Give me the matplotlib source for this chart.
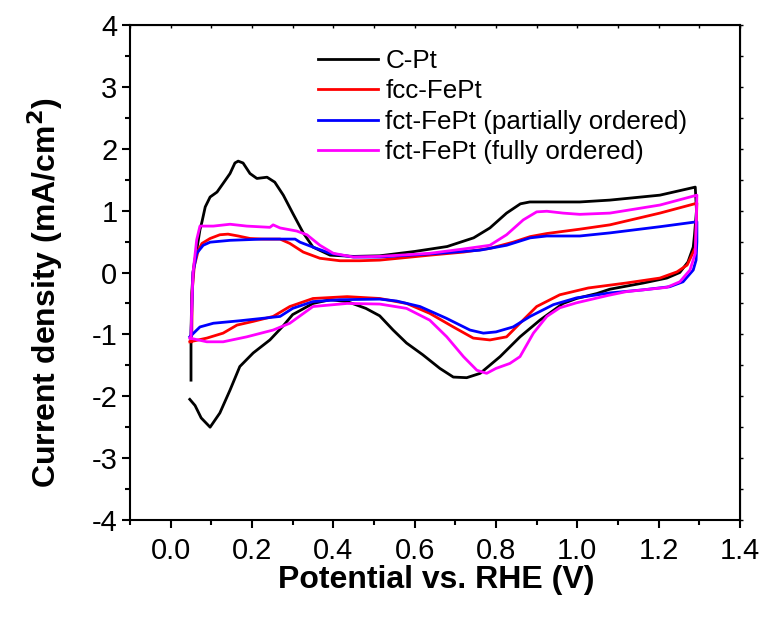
import numpy as np
import matplotlib
matplotlib.use('Agg')
import matplotlib.pyplot as plt
from matplotlib.ticker import MultipleLocator, FixedLocator

plt.rcParams['font.family'] = ['Liberation Sans', 'DejaVu Sans']
plt.rcParams['axes.unicode_minus'] = False

# Cyclic voltammograms, each read as one sweep: anodic up to 1.29 V, then cathodic back
cpt_x = [0.050, 0.050, 0.052, 0.055, 0.058, 0.064, 0.072, 0.077, 0.085, 0.097, 0.114, 0.129,
         0.146, 0.158, 0.166, 0.178, 0.195, 0.212, 0.237, 0.256, 0.277, 0.300, 0.326, 0.350,
         0.392, 0.450, 0.514, 0.600, 0.680, 0.745, 0.785, 0.826, 0.860, 0.883, 0.957, 1.006,
         1.080, 1.203, 1.290,
         1.293, 1.288, 1.285, 1.272, 1.252, 1.220, 1.162, 1.080, 1.048, 0.998, 0.965, 0.908,
         0.859, 0.810, 0.761, 0.728, 0.695, 0.662, 0.620, 0.580, 0.547, 0.514, 0.480, 0.434,
         0.392, 0.350, 0.300, 0.277, 0.244, 0.203, 0.170, 0.146, 0.121, 0.097, 0.075, 0.060,
         0.047]
cpt_y = [-1.74, -1.00, -0.33, 0.00, 0.15, 0.36, 0.69, 0.82, 1.06, 1.22, 1.30, 1.44,
         1.60, 1.77, 1.80, 1.77, 1.60, 1.52, 1.54, 1.46, 1.25, 0.96, 0.64, 0.41,
         0.28, 0.26, 0.27, 0.34, 0.42, 0.56, 0.72, 0.96, 1.11, 1.14, 1.14, 1.14,
         1.17, 1.25, 1.38,
         1.00, 0.60, 0.41, 0.17, 0.00, -0.09, -0.17, -0.27, -0.34, -0.42, -0.50, -0.77,
         -1.04, -1.36, -1.63, -1.70, -1.69, -1.55, -1.33, -1.14, -0.93, -0.70, -0.58, -0.47,
         -0.44, -0.50, -0.68, -0.86, -1.09, -1.30, -1.52, -1.90, -2.27, -2.50, -2.35, -2.15,
         -2.05]

fcc_x = [0.050, 0.052, 0.053, 0.058, 0.068, 0.077, 0.097, 0.121, 0.141, 0.166, 0.195, 0.227,
         0.269, 0.293, 0.326, 0.367, 0.416, 0.465, 0.514, 0.637, 0.720, 0.785, 0.842, 0.884,
         0.925, 1.006, 1.080, 1.203, 1.294,
         1.292, 1.290, 1.270, 1.245, 1.203, 1.120, 1.027, 0.957, 0.900, 0.859, 0.826, 0.785,
         0.744, 0.695, 0.637, 0.580, 0.514, 0.434, 0.350, 0.293, 0.252, 0.203, 0.163, 0.129,
         0.089, 0.047]
fcc_y = [-1.12, -1.00, -0.30, 0.10, 0.36, 0.47, 0.55, 0.61, 0.62, 0.59, 0.55, 0.54,
         0.54, 0.47, 0.33, 0.23, 0.19, 0.19, 0.20, 0.28, 0.33, 0.39, 0.49, 0.58,
         0.63, 0.70, 0.77, 0.96, 1.12,
         0.70, 0.40, 0.12, 0.01, -0.09, -0.17, -0.25, -0.36, -0.55, -0.82, -1.04, -1.09,
         -1.06, -0.88, -0.66, -0.50, -0.42, -0.39, -0.42, -0.55, -0.71, -0.79, -0.85, -0.98,
         -1.06, -1.12]

fct_part_x = [0.050, 0.052, 0.055, 0.064, 0.080, 0.097, 0.146, 0.227, 0.269, 0.306, 0.318,
              0.350, 0.392, 0.449, 0.514, 0.637, 0.760, 0.826, 0.884, 0.925, 1.006, 1.080,
              1.203, 1.294,
              1.294, 1.292, 1.285, 1.260, 1.227, 1.162, 1.080, 0.998, 0.941, 0.884, 0.842,
              0.800, 0.769, 0.736, 0.678, 0.613, 0.555, 0.514, 0.416, 0.350, 0.300, 0.269,
              0.227, 0.170, 0.105, 0.072, 0.047]
fct_part_y = [-1.04, -0.60, 0.00, 0.31, 0.44, 0.49, 0.52, 0.54, 0.54, 0.54, 0.49,
              0.41, 0.31, 0.25, 0.25, 0.30, 0.36, 0.44, 0.56, 0.59, 0.59, 0.64,
              0.74, 0.82,
              0.50, 0.20, 0.04, -0.15, -0.23, -0.28, -0.33, -0.41, -0.52, -0.71, -0.88,
              -0.96, -0.98, -0.93, -0.74, -0.55, -0.46, -0.43, -0.44, -0.47, -0.58, -0.71,
              -0.74, -0.78, -0.82, -0.88, -1.04]

fct_full_x = [0.050, 0.052, 0.055, 0.064, 0.072, 0.105, 0.146, 0.187, 0.244, 0.252, 0.269,
              0.310, 0.335, 0.367, 0.400, 0.449, 0.514, 0.637, 0.720, 0.785, 0.826, 0.867,
              0.900, 0.925, 0.965, 1.006, 1.080, 1.203, 1.294,
              1.292, 1.290, 1.277, 1.252, 1.220, 1.120, 1.076, 0.998, 0.957, 0.925, 0.892,
              0.859, 0.834, 0.800, 0.777, 0.753, 0.720, 0.679, 0.637, 0.580, 0.514, 0.434,
              0.350, 0.293, 0.252, 0.187, 0.129, 0.089, 0.047]
fct_full_y = [-1.06, -0.50, 0.00, 0.53, 0.75, 0.75, 0.78, 0.75, 0.73, 0.77, 0.72,
              0.67, 0.61, 0.44, 0.31, 0.25, 0.26, 0.31, 0.38, 0.44, 0.61, 0.85,
              0.98, 0.99, 0.96, 0.94, 0.96, 1.09, 1.25,
              0.70, 0.31, 0.04, -0.15, -0.24, -0.31, -0.37, -0.49, -0.57, -0.71, -0.98,
              -1.36, -1.47, -1.55, -1.63, -1.58, -1.36, -1.04, -0.77, -0.58, -0.51, -0.50,
              -0.55, -0.82, -0.93, -1.04, -1.12, -1.12, -1.06]

labels = ['C-Pt', 'fcc-FePt', 'fct-FePt (partially ordered)', 'fct-FePt (fully ordered)']
colors = ['black', 'red', 'blue', 'magenta']

fig = plt.figure(figsize=(7.65, 6.22), dpi=100)
ax = fig.add_axes([130 / 765, 102 / 622, 610 / 765, 495 / 622])

curves = [(cpt_x, cpt_y), (fcc_x, fcc_y), (fct_part_x, fct_part_y), (fct_full_x, fct_full_y)]
for (xs, ys), lab, col in zip(curves, labels, colors):
    ax.plot(xs, ys, color=col, lw=2.0, label=lab)

ax.set_xlim(-0.1, 1.4)
ax.set_ylim(-4, 4)
ax.xaxis.set_major_locator(FixedLocator([0.0, 0.2, 0.4, 0.6, 0.8, 1.0, 1.2, 1.4]))
ax.xaxis.set_minor_locator(MultipleLocator(0.1))
ax.yaxis.set_major_locator(MultipleLocator(1))
ax.yaxis.set_minor_locator(MultipleLocator(0.5))
ax.set_xticklabels(['0.0', '0.2', '0.4', '0.6', '0.8', '1.0', '1.2', '1.4'])

for s in ax.spines.values():
    s.set_linewidth(1.5)
ax.tick_params(which='major', direction='out', length=6, width=1.5, labelsize=21)
ax.tick_params(which='minor', direction='out', length=3.5, width=1.5)
ax.tick_params(axis='x', pad=6)
ax.tick_params(axis='y', pad=3)

# small ticks on the top and right frame
top = ax.secondary_xaxis('top')
top.xaxis.set_major_locator(MultipleLocator(0.1))
top.tick_params(direction='in', length=2, width=1, labeltop=False)
right = ax.secondary_yaxis('right')
right.yaxis.set_major_locator(MultipleLocator(0.5))
right.tick_params(direction='out', length=2, width=1, labelright=False)

ax.set_xlabel('Potential vs. RHE (V)', fontsize=23, fontweight='bold', va='center')
ax.set_ylabel('Current density (mA/cm$^\\mathbf{2}$)', fontsize=23, fontweight='bold', va='center')
ax.xaxis.set_label_coords(0.502, -0.121)
ax.yaxis.set_label_coords(-0.139, 0.46)

ax.legend(loc='upper left', bbox_to_anchor=(0.308, 0.952), frameon=False, fontsize=18.7,
          handlelength=2.3, handletextpad=0.3, labelspacing=0.25, borderpad=0,
          borderaxespad=0)

fig.savefig('out.png', dpi=100)
